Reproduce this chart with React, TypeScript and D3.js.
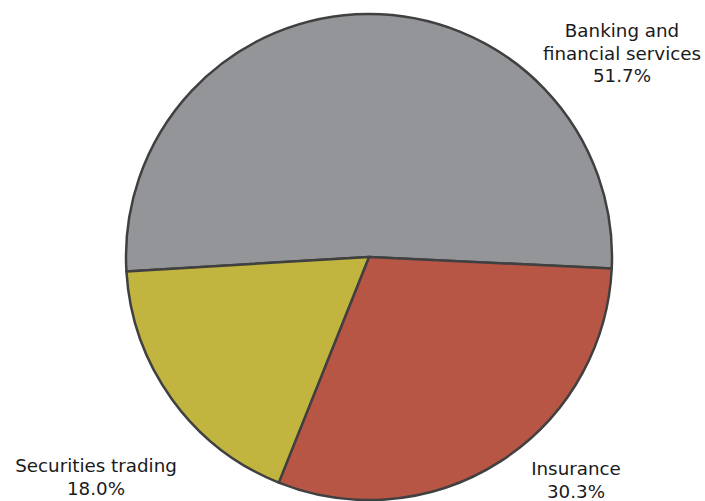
import { useEffect, useRef } from "react";
import * as d3 from "d3";

const categories = ["Banking and financial services", "Insurance", "Securities trading"];
const shares = [51.7, 30.3, 18.0];
const colors = ["#949599", "#b85646", "#c1b43f"];
// label lines and their anchor (relative to pie centre)
const labelLines = [
  ["Banking and", "financial services", "51.7%"],
  ["Insurance", "30.3%"],
  ["Securities trading", "18.0%"],
];
const labelAnchors: [number, number][] = [
  [253, -220],
  [207, 218],
  [-273, 215],
];

export default function App() {
  const svgRef = useRef<SVGSVGElement | null>(null);

  useEffect(() => {
    if (!svgRef.current) return;
    const width = 705;
    const height = 501;
    const cx = 369;
    const cy = 257;
    const radius = 243;

    d3.select(svgRef.current).selectAll("*").remove();

    const svg = d3
      .select(svgRef.current)
      .attr("width", width)
      .attr("height", height)
      .style("display", "block");

    const g = svg.append("g").attr("transform", `translate(${cx},${cy})`);

    const rows = categories.map((c, i) => ({ name: c, value: shares[i], idx: i }));

    const startAngle = (-93.4 * Math.PI) / 180;
    const pie = d3
      .pie<{ name: string; value: number; idx: number }>()
      .value((d) => d.value)
      .sort(null)
      .startAngle(startAngle)
      .endAngle(startAngle + 2 * Math.PI);

    const arc = d3
      .arc<d3.PieArcDatum<{ name: string; value: number; idx: number }>>()
      .innerRadius(0)
      .outerRadius(radius);

    g.selectAll("path")
      .data(pie(rows))
      .enter()
      .append("path")
      .attr("d", arc)
      .attr("fill", (d) => colors[d.data.idx])
      .attr("stroke", "#404040")
      .attr("stroke-width", 2.5)
      .attr("stroke-linejoin", "round");

    rows.forEach((r, i) => {
      const [dx, dy] = labelAnchors[i];
      const t = g
        .append("text")
        .attr("text-anchor", "middle")
        .attr("font-family", "'DejaVu Sans', Verdana, sans-serif")
        .attr("font-size", 18.3)
        .attr("fill", "#1a1a1a");
      labelLines[i].forEach((line, j) => {
        t.append("tspan")
          .attr("x", dx)
          .attr("y", dy + j * 22.5)
          .text(line);
      });
    });
  }, []);

  return <svg ref={svgRef} style={{ position: "absolute", left: 0, top: 0 }} />;
}
